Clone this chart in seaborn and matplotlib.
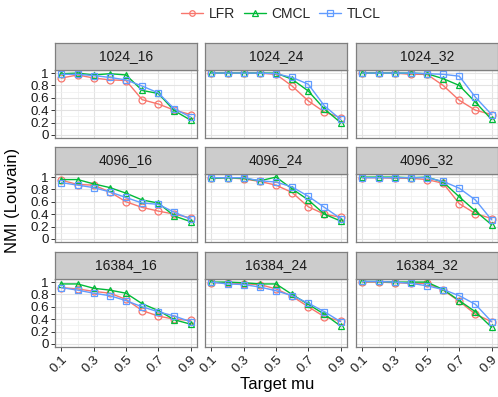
import matplotlib
matplotlib.use("Agg")
import pandas as pd
import matplotlib.pyplot as plt
import seaborn as sns
from matplotlib.lines import Line2D

# Veriler
mu = [0.1, 0.2, 0.3, 0.4, 0.5, 0.6, 0.7, 0.8, 0.9]
methods = ["LFR", "CMCL", "TLCL"]
panels = ["1024_16", "1024_24", "1024_32",
          "4096_16", "4096_24", "4096_32",
          "16384_16", "16384_24", "16384_32"]

lfr_1024_16 = [0.92, 0.97, 0.92, 0.89, 0.88, 0.57, 0.50, 0.40, 0.33]
cmcl_1024_16 = [0.99, 1.00, 0.97, 0.99, 0.97, 0.72, 0.67, 0.39, 0.24]
tlcl_1024_16 = [0.98, 0.98, 0.96, 0.93, 0.89, 0.79, 0.68, 0.42, 0.29]

lfr_1024_24 = [1.00, 1.00, 1.00, 1.00, 0.98, 0.79, 0.55, 0.37, 0.28]
cmcl_1024_24 = [1.00, 1.00, 1.00, 1.00, 1.00, 0.90, 0.71, 0.42, 0.20]
tlcl_1024_24 = [1.00, 1.00, 1.00, 1.00, 0.99, 0.93, 0.82, 0.47, 0.25]

lfr_1024_32 = [1.00, 1.00, 1.00, 0.98, 0.98, 0.80, 0.56, 0.40, 0.33]
cmcl_1024_32 = [1.00, 1.00, 1.00, 1.00, 0.99, 0.91, 0.80, 0.53, 0.25]
tlcl_1024_32 = [1.00, 1.00, 1.00, 1.00, 0.99, 0.98, 0.95, 0.61, 0.33]

lfr_4096_16 = [0.95, 0.88, 0.87, 0.76, 0.60, 0.51, 0.45, 0.40, 0.34]
cmcl_4096_16 = [0.96, 0.96, 0.89, 0.83, 0.74, 0.63, 0.58, 0.37, 0.28]
tlcl_4096_16 = [0.91, 0.87, 0.83, 0.76, 0.67, 0.58, 0.56, 0.43, 0.32]

lfr_4096_24 = [0.98, 0.99, 0.97, 0.93, 0.87, 0.75, 0.52, 0.40, 0.35]
cmcl_4096_24 = [0.98, 0.99, 0.98, 0.94, 1.00, 0.81, 0.63, 0.40, 0.29]
tlcl_4096_24 = [0.99, 0.99, 0.99, 0.94, 0.92, 0.84, 0.69, 0.51, 0.33]

lfr_4096_32 = [0.99, 0.99, 0.98, 0.98, 0.96, 0.90, 0.57, 0.41, 0.33]
cmcl_4096_32 = [1.00, 1.00, 1.00, 0.99, 1.00, 0.92, 0.68, 0.45, 0.23]
tlcl_4096_32 = [0.99, 0.99, 0.99, 0.99, 0.99, 0.93, 0.82, 0.63, 0.31]

lfr_16384_16 = [0.91, 0.89, 0.85, 0.82, 0.72, 0.54, 0.45, 0.40, 0.38]
cmcl_16384_16 = [0.97, 0.97, 0.90, 0.87, 0.82, 0.65, 0.54, 0.39, 0.32]
tlcl_16384_16 = [0.91, 0.87, 0.82, 0.78, 0.70, 0.60, 0.52, 0.45, 0.36]

lfr_16384_24 = [0.99, 0.99, 0.97, 0.96, 0.89, 0.77, 0.60, 0.44, 0.37]
cmcl_16384_24 = [1.00, 1.00, 0.99, 0.97, 0.97, 0.80, 0.64, 0.48, 0.29]
tlcl_16384_24 = [1.00, 0.97, 0.96, 0.92, 0.86, 0.78, 0.66, 0.52, 0.36]

lfr_16384_32 = [1.00, 1.00, 0.99, 0.98, 0.98, 0.87, 0.69, 0.48, 0.36]
cmcl_16384_32 = [1.01, 1.01, 1.00, 1.00, 1.00, 0.88, 0.70, 0.52, 0.27]
tlcl_16384_32 = [1.01, 1.01, 1.00, 0.98, 0.94, 0.88, 0.78, 0.64, 0.36]

values = {
    "1024_16": [lfr_1024_16, cmcl_1024_16, tlcl_1024_16],
    "1024_24": [lfr_1024_24, cmcl_1024_24, tlcl_1024_24],
    "1024_32": [lfr_1024_32, cmcl_1024_32, tlcl_1024_32],
    "4096_16": [lfr_4096_16, cmcl_4096_16, tlcl_4096_16],
    "4096_24": [lfr_4096_24, cmcl_4096_24, tlcl_4096_24],
    "4096_32": [lfr_4096_32, cmcl_4096_32, tlcl_4096_32],
    "16384_16": [lfr_16384_16, cmcl_16384_16, tlcl_16384_16],
    "16384_24": [lfr_16384_24, cmcl_16384_24, tlcl_16384_24],
    "16384_32": [lfr_16384_32, cmcl_16384_32, tlcl_16384_32],
}

rows = []
for p in panels:
    for m, ys in zip(methods, values[p]):
        for x, y in zip(mu, ys):
            rows.append({"panel": p, "method": m, "mu": x, "nmi": y})
df = pd.DataFrame(rows)

colors = {"LFR": "#F8766D", "CMCL": "#00BA38", "TLCL": "#619CFF"}
markers = {"LFR": "o", "CMCL": "^", "TLCL": "s"}

sns.set_theme(style="white")
plt.rcParams["font.family"] = ["Liberation Sans", "DejaVu Sans"]

W, H = 498, 397
fig = plt.figure(figsize=(W / 100, H / 100), dpi=100)

col_left = [55, 205, 356]
pw = 142
row_top = [70, 174, 279]
ph = 68
sh = 27

text_c = "#1a1a1a"
border_c = "#7f7f7f"

for i, p in enumerate(panels):
    r, c = divmod(i, 3)
    l, t = col_left[c], row_top[r]
    ax = fig.add_axes([l / W, 1 - (t + ph) / H, pw / W, ph / H])
    sub = df[df["panel"] == p]
    sns.lineplot(
        data=sub, x="mu", y="nmi",
        hue="method", style="method",
        hue_order=methods, style_order=methods,
        palette=colors, markers=markers, dashes=False,
        errorbar=None, legend=False, ax=ax,
        linewidth=1.0, markersize=5, zorder=3
    )
    for line in ax.lines:
        lc = line.get_color()
        line.set_markerfacecolor("none")
        line.set_markeredgecolor(lc)
        line.set_markeredgewidth(0.9)

    ax.set_xlim(0.06, 0.94)
    ax.set_ylim(-0.05, 1.05)
    ax.set_xticks([0.1, 0.3, 0.5, 0.7, 0.9])
    ax.set_xticks([0.2, 0.4, 0.6, 0.8], minor=True)
    ax.set_yticks([0, 0.2, 0.4, 0.6, 0.8, 1.0])
    ax.set_yticks([0.1, 0.3, 0.5, 0.7, 0.9], minor=True)
    ax.grid(which="major", color="#e3e3e3", linewidth=0.8)
    ax.grid(which="minor", color="#efefef", linewidth=0.5)
    ax.set_axisbelow(True)
    for s in ax.spines.values():
        s.set_color(border_c)
        s.set_linewidth(0.9)
    ax.tick_params(which="major", length=3, width=0.7, color="#333333",
                   labelsize=9.6, labelcolor=text_c, pad=1.5)
    ax.tick_params(which="minor", length=0)
    ax.set_xlabel("")
    ax.set_ylabel("")

    if c == 0:
        ax.set_yticklabels(["0", "0.2", "0.4", "0.6", "0.8", "1"])
        ax.tick_params(axis="y", left=True)
    else:
        ax.set_yticklabels([])
        ax.tick_params(axis="y", left=False)
    if r == 2:
        ax.set_xticklabels(["0.1", "0.3", "0.5", "0.7", "0.9"],
                           rotation=45, ha="right", va="top",
                           rotation_mode="anchor")
        ax.tick_params(axis="x", bottom=True)
    else:
        ax.set_xticklabels([])
        ax.tick_params(axis="x", bottom=False)

    # facet basligi
    sax = fig.add_axes([l / W, 1 - t / H, pw / W, sh / H])
    sax.set_facecolor("#cccccc")
    sax.set_xticks([])
    sax.set_yticks([])
    for s in sax.spines.values():
        s.set_color(border_c)
        s.set_linewidth(0.9)
    sax.text(0.5, 0.5, p, ha="center", va="center", fontsize=10,
             color=text_c, transform=sax.transAxes)

handles = [
    Line2D([], [], color=colors[m], marker=markers[m], markerfacecolor="none",
           markeredgecolor=colors[m], markersize=4, markeredgewidth=0.9,
           linewidth=1.0)
    for m in methods
]
fig.legend(handles, methods, loc="center", bbox_to_anchor=(281 / W, 1 - 14 / H),
           ncol=3, frameon=False, handlelength=1.6, columnspacing=0.6,
           handletextpad=0.4, fontsize=10)

fig.text(13 / W, 1 - 200 / H, "NMI (Louvain)", rotation=90, ha="center",
         va="center", fontsize=12, color="black")
fig.text(277 / W, 1 - 385 / H, "Target mu", ha="center", va="center",
         fontsize=12, color="black")

plt.savefig("out.png", dpi=100)
